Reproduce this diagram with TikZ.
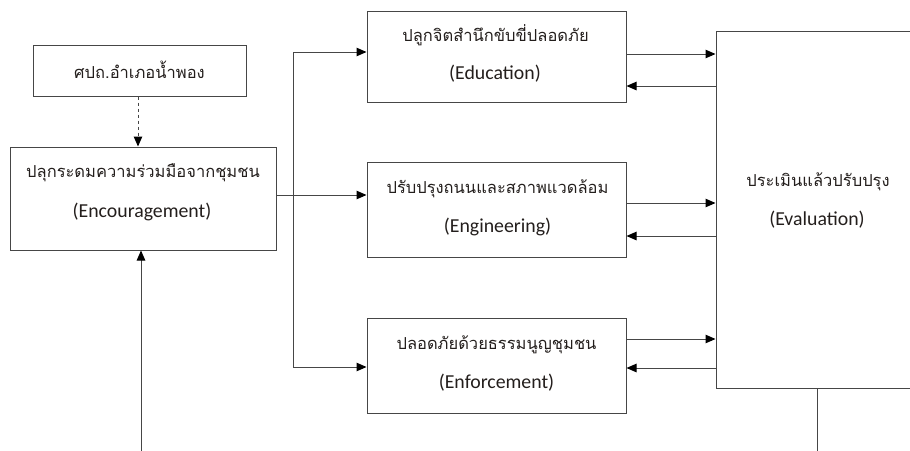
\documentclass[tikz,border=0pt]{standalone}
\usepackage{fontspec}
\setmainfont{Carlito}
\newfontfamily\thai[Script=Thai]{Loma}
\usetikzlibrary{arrows.meta}
\definecolor{ln}{RGB}{70,70,70}
\definecolor{tx}{RGB}{35,30,28}
\begin{document}
\begin{tikzpicture}[x=1pt,y=-1pt,
  box/.style={draw=ln,line width=1pt,rectangle,inner sep=0pt},
  th/.style={font=\thai\fontsize{16.5}{19}\selectfont,text=tx,inner sep=0pt},
  en/.style={font=\fontsize{19.8}{23}\selectfont,text=tx,inner sep=0pt},
  conn/.style={draw=ln,line width=1pt},
  arr/.style={conn,-{Triangle[length=10pt,width=8.5pt,fill=black,color=black]}}]
\useasboundingbox (0,0) rectangle (910,450);
\clip (0,0) rectangle (910,450);
% boxes
\node[box,minimum width=213,minimum height=51] (pcd) at (139.5,70.5) {};
\node[box,minimum width=266,minimum height=103] (enc) at (143,198.5) {};
\node[box,minimum width=259,minimum height=91] (edu) at (496.5,56.5) {};
\node[box,minimum width=259,minimum height=95] (eng) at (496.5,209.5) {};
\node[box,minimum width=259,minimum height=95] (enf) at (496.5,365.5) {};
\node[box,minimum width=202,minimum height=357] (eva) at (817,209.5) {};
% texts
\node[th] (t1) at (139.5,70) {ศปถ.อำเภอน้ำพอง};
\node[th] (t2) at (143,173) {ปลุกระดมความร่วมมือจากชุมชน};
\node[en] (e2) at (142,212) {(Encouragement)};
\node[th] (t3) at (495.5,35) {ปลูกจิตสำนึกขับขี่ปลอดภัย};
\node[en] (e3) at (495,74) {(Education)};
\node[th] (t4) at (497.5,189) {ปรับปรุงถนนและสภาพแวดล้อม};
\node[en] (e4) at (497.5,227) {(Engineering)};
\node[th] (t5) at (496.5,345) {ปลอดภัยด้วยธรรมนูญชุมชน};
\node[en] (e5) at (496.5,383) {(Enforcement)};
\node[th] (t6) at (818,182) {ประเมินแล้วปรับปรุง};
\node[en] (e6) at (817,220) {(Evaluation)};
% connectors
\draw[arr,dashed] (pcd.south -| 138,0) -- (enc.north -| 138,0);
\coordinate (bot) at (141,452);
\draw[arr] (bot) -- (bot |- enc.south);
\coordinate (jt) at (293,52);
\coordinate (jm) at (293,195);
\coordinate (jb) at (293,367);
\draw[conn] (jt) -- (jb);
\draw[arr] (enc.east |- jm) -- (eng.west |- jm);
\draw[arr] (jt) -- (edu.west |- jt);
\draw[arr] (jb) -- (enf.west |- jb);
\draw[arr] (edu.east |- 0,54) -- (eva.west |- 0,54);
\draw[arr] (eva.west |- 0,86) -- (edu.east |- 0,86);
\draw[arr] (eng.east |- 0,203) -- (eva.west |- 0,203);
\draw[arr] (eva.west |- 0,236) -- (eng.east |- 0,236);
\draw[arr] (enf.east |- 0,339) -- (eva.west |- 0,339);
\draw[arr] (eva.west |- 0,368) -- (enf.east |- 0,368);
\coordinate (ebot) at (817,452);
\draw[conn] (eva.south) -- (ebot);
\end{tikzpicture}
\end{document}
